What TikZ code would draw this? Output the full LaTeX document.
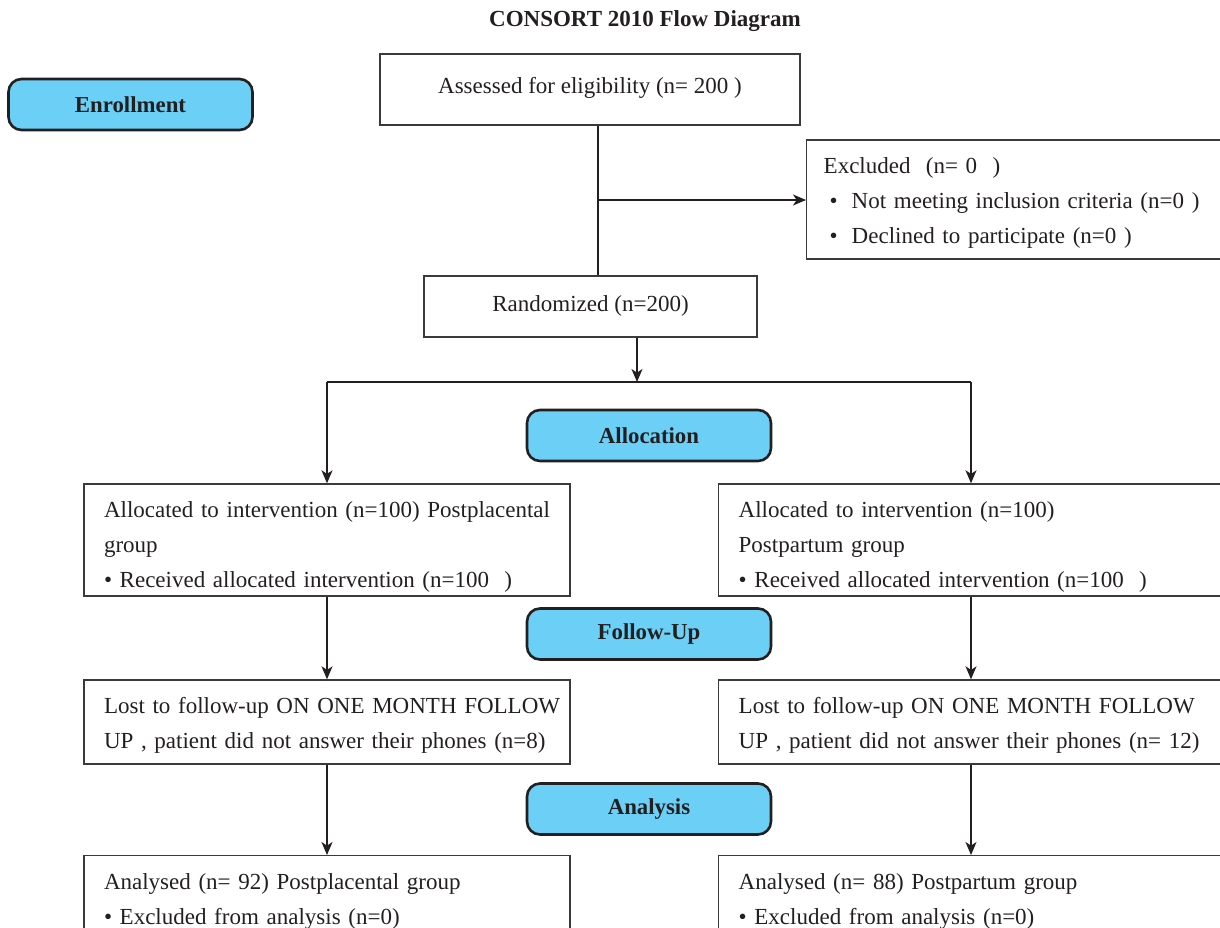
\documentclass[tikz,border=0pt]{standalone}
\usepackage{fontspec}
\setmainfont{Liberation Serif}
\usetikzlibrary{arrows.meta}
\definecolor{ink}{HTML}{231F20}
\definecolor{phase}{HTML}{6BCFF6}
\definecolor{frame}{HTML}{3A3A3A}
% raises the top of a text block by the given amount
\newcommand{\topgap}[1]{\rule{0pt}{#1}}
\begin{document}
\begin{tikzpicture}[x=0.5pt,y=-0.5pt,
  font=\fontsize{11.5}{17.5}\selectfont, text=ink,
  box/.style={draw=frame, line width=0.7pt, inner sep=0pt, align=center},
  listbox/.style={draw=frame, line width=0.7pt, inner xsep=10pt, inner ysep=0pt, align=left},
  phasebox/.style={draw=ink, fill=phase, line width=1.3pt, rounded corners=6.5pt,
    minimum width=122pt, minimum height=25.5pt, inner sep=0pt,
    font=\fontsize{11.4}{12}\selectfont\bfseries},
  link/.style={draw=ink, line width=0.75pt},
  flow/.style={link, -{Stealth[length=6.5pt,width=5.5pt,inset=1.8pt]}}
]
\useasboundingbox (0,0) rectangle (1220,927);
\clip (0,0) rectangle (1220,927);

% title and phase labels
\node[font=\fontsize{11.5}{12}\selectfont\bfseries] (title) at (645,21) {CONSORT 2010 Flow Diagram};
\node[phasebox] (enroll) at (130.5,104.5) {Enrollment};
\node[phasebox] (allocation) at (649,435.5) {Allocation};
\node[phasebox] (followup) at (649,634) {Follow-Up};
\node[phasebox] (analysis) at (649,809) {Analysis};

% enrollment
\node[box, minimum width=210pt, minimum height=35.5pt] (assessed) at (590,89.5)
  {Assessed for eligibility (n= 200 )\rule[-4pt]{0pt}{0pt}};
\node[listbox, inner xsep=8.5pt, text width=200pt, minimum height=59.5pt, anchor=west] (excluded) at (806,199.5)
  {\topgap{11pt}Excluded~~(n= 0~~)\\
   \hspace*{3pt}\textbullet\hspace{7pt}Not meeting inclusion criteria (n=0 )\\
   \hspace*{3pt}\textbullet\hspace{7pt}Declined to participate (n=0 )};
\node[box, minimum width=166.5pt, minimum height=30.5pt] (randomized) at (590.5,306.5)
  {Randomized (n=200)\rule[-3pt]{0pt}{0pt}};

% allocation
\node[listbox, text width=223pt, minimum height=56pt] (allocL) at (327,540)
  {\topgap{15pt}\mbox{Allocated to intervention (n=100) Postplacental}\\
   group\\
   \mbox{\textbullet\ Received allocated intervention (n=100~~)}};
\node[listbox, text width=241pt, minimum height=56pt, anchor=west] (allocR) at (718,540)
  {\topgap{15pt}Allocated to intervention (n=100)\\
   Postpartum group\\
   \mbox{\textbullet\ Received allocated intervention (n=100~~)}};

% follow-up
\node[listbox, text width=223pt, minimum height=42pt] (lostL) at (327,722)
  {\topgap{11pt}\mbox{Lost to follow-up ON ONE MONTH FOLLOW}\\
   \mbox{UP , patient did not answer their phones (n=8)}};
\node[listbox, text width=241pt, minimum height=42pt, anchor=west] (lostR) at (718,722)
  {\topgap{11pt}\mbox{Lost to follow-up ON ONE MONTH FOLLOW}\\
   \mbox{UP , patient did not answer their phones (n= 12)}};

% analysis
\node[listbox, text width=223pt, inner ysep=9pt, anchor=north] (anaL) at (327,855)
  {Analysed (n= 92) Postplacental group\\
   \textbullet\ Excluded from analysis (n=0)};
\node[listbox, text width=241pt, inner ysep=9pt, anchor=north west] (anaR) at (718,855)
  {Analysed (n= 88) Postpartum group\\
   \textbullet\ Excluded from analysis (n=0)};

% connectors
\coordinate (spine) at (598,200);
\coordinate (split) at (637,382);
\coordinate (rcol) at (971,0);
\draw[link] (spine |- assessed.south) -- (spine |- randomized.north);
\draw[flow] (spine) -- (excluded.west |- spine);
\draw[flow] (split |- randomized.south) -- (split);
\draw[link] (allocL.north |- split) -- (rcol |- split);
\draw[flow] (allocL.north |- split) -- (allocL.north);
\draw[flow] (rcol |- split) -- (rcol |- allocR.north);
\draw[flow] (allocL.south) -- (lostL.north);
\draw[flow] (rcol |- allocR.south) -- (rcol |- lostR.north);
\draw[flow] (lostL.south) -- (anaL.north);
\draw[flow] (rcol |- lostR.south) -- (rcol |- anaR.north);
\end{tikzpicture}
\end{document}
